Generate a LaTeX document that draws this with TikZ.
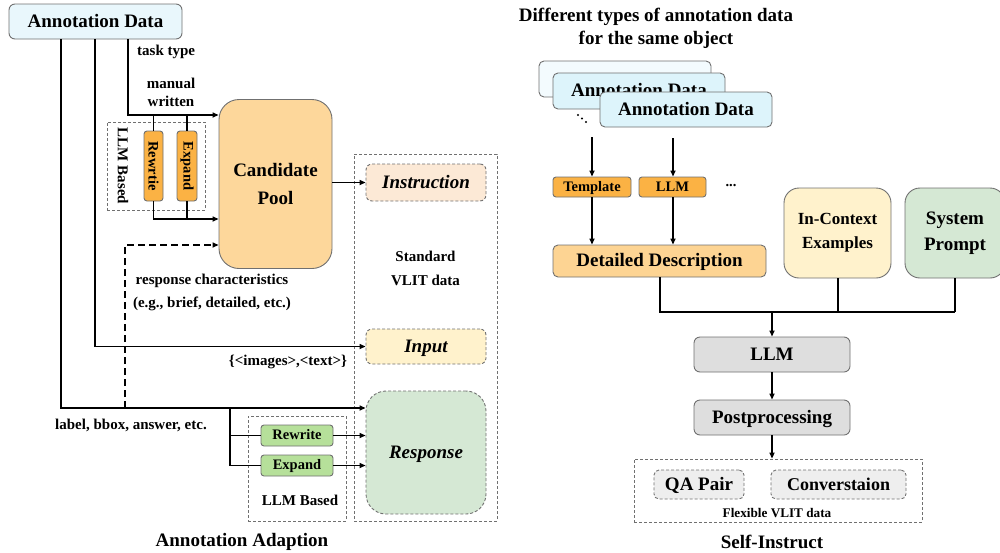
\documentclass[tikz,border=0pt]{standalone}
\usepackage{fontspec}
\setmainfont{Liberation Serif}
\usetikzlibrary{arrows.meta,calc}
\definecolor{bordergray}{HTML}{707070}
\definecolor{annfill}{HTML}{E9F7FC}
\definecolor{annfillb}{HTML}{F3FBFE}
\definecolor{annfillf}{HTML}{DDF4FB}
\definecolor{poolfill}{HTML}{FDD79B}
\definecolor{orangefill}{HTML}{FBB244}
\definecolor{detfill}{HTML}{FDD493}
\definecolor{instrfill}{HTML}{FCE9D6}
\definecolor{yellowfill}{HTML}{FFF2CC}
\definecolor{greenfill}{HTML}{D5E8D4}
\definecolor{greenbtn}{HTML}{B6E09A}
\definecolor{grayfill}{HTML}{DEDEDE}
\definecolor{lgrayfill}{HTML}{EEEEEE}
\newcommand{\fbig}{\fontsize{19}{22}\selectfont\bfseries}
\newcommand{\fmid}{\fontsize{15}{18}\selectfont\bfseries}
\newcommand{\fsml}{\fontsize{14.5}{17}\selectfont\bfseries}
\newcommand{\ftiny}{\fontsize{13.2}{15}\selectfont\bfseries}
\begin{document}
\begin{tikzpicture}[x=1pt,y=-1pt,
  box/.style={draw=bordergray, line width=0.9pt, rounded corners=5pt, inner sep=0pt, font=\fbig, align=center},
  bt/.style={text height=12pt, text depth=1pt},
  st/.style={text height=9.5pt, text depth=1pt},
  smallbox/.style={draw=bordergray, line width=0.9pt, rounded corners=3pt, inner sep=0pt, font=\fsml},
  dbox/.style={draw=bordergray, line width=0.8pt, dash pattern=on 3pt off 2pt, inner sep=0pt},
  ln/.style={line width=1.8pt},
  arr/.style={line width=1.8pt, -{Triangle[length=6pt,width=5pt]}},
  lbl/.style={font=\fmid, inner sep=0pt, align=center},
]
\useasboundingbox (0,0) rectangle (1000,552);

% ================= LEFT: Annotation Adaption =================
\node[dbox, minimum width=98pt, minimum height=88pt] (llmgrp1) at (156,166) {};
\node[dbox, minimum width=98pt, minimum height=105pt] (llmgrp2) at (297,468.5) {};
\node[dbox, minimum width=143pt, minimum height=367pt] (stdgrp) at (425.5,337.5) {};

\node[box, bt, fill=annfill, rounded corners=6pt, minimum width=173pt, minimum height=35pt] (ann) at (95.5,21.5) {Annotation Data};
\node[box, fill=poolfill, rounded corners=20pt, minimum width=113pt, minimum height=169pt] (cand) at (275.5,184) {Candidate\\[6pt]Pool};

\node[smallbox, fill=orangefill, minimum width=19pt, minimum height=70pt] (rw1) at (153.5,166) {};
\node[rotate=-90, font=\fsml, inner sep=0pt] at (rw1.center) {Rewrtie};
\node[smallbox, fill=orangefill, minimum width=20pt, minimum height=70pt] (ex1) at (187,166) {};
\node[rotate=-90, font=\fsml, inner sep=0pt] at (ex1.center) {Expand};
\node[rotate=-90, lbl] (llmb1) at (123,166) {LLM Based};

\node[box, bt, dash pattern=on 3pt off 2pt, fill=instrfill, rounded corners=6pt, minimum width=120pt, minimum height=37pt, font=\fbig\itshape] (instr) at (426,182.5) {Instruction};
\node[box, bt, dash pattern=on 3pt off 2pt, fill=yellowfill, rounded corners=6pt, minimum width=120pt, minimum height=35pt, font=\fbig\itshape] (inp) at (426,346.5) {Input};
\node[box, bt, dash pattern=on 3pt off 2pt, fill=greenfill, rounded corners=20pt, minimum width=120pt, minimum height=123pt, font=\fbig\itshape] (resp) at (426,452.5) {Response};

\node[smallbox, st, fill=greenbtn, minimum width=72pt, minimum height=21pt] (rw2) at (297,435.5) {Rewrite};
\node[smallbox, st, fill=greenbtn, minimum width=72pt, minimum height=21pt] (ex2) at (297,465.5) {Expand};

\node[lbl, anchor=west] (tt) at (137,52) {task type};
\node[lbl] (mw) at (171,92.5) {manual\\written};
\node[lbl] (rc1) at (212,281) {response characteristics};
\node[lbl] (rc2) at (212,304) {(e.g., brief, detailed, etc.)};
\node[lbl] (imgtxt) at (288,362) {\{<images>,<text>\}};
\node[lbl] (lbb) at (131,425) {label, bbox, answer, etc.};
\node[lbl] (std1) at (425.5,256) {Standard};
\node[lbl] (std2) at (425.5,280) {VLIT data};
\node[lbl] (llmb2) at (300,500) {LLM Based};
\node[font=\fbig, inner sep=0pt] (titleL) at (242,542) {Annotation Adaption};

% connectors left
\draw[arr] (ann.south -| 128,0) |- (cand.west |- 0,115);
\draw[ln] (rw1.north) -- (rw1.north |- 0,115);
\draw[ln] (ex1.north) -- (ex1.north |- 0,115);
\draw[arr] (rw1.south) |- (cand.west |- 0,219);
\draw[ln] (ex1.south) -- (ex1.south |- 0,219);
\draw[arr, dash pattern=on 7pt off 4pt] (125,408) -- (125,245) -- (cand.west |- 0,245);
\draw[arr] (ann.south -| 95,0) |- (inp.west);
\draw[arr] (ann.south -| 61,0) |- (resp.west |- 0,408);
\draw[ln] (230,408) |- (ex2.west);
\draw[ln] (230,435.5) -- (rw2.west);
\draw[arr] (rw2.east) -- (resp.west |- rw2.east);
\draw[arr] (ex2.east) -- (resp.west |- ex2.east);
\draw[arr] (cand.east |- instr.west) -- (instr.west);

% ================= RIGHT: Self-Instruct =================
\node[lbl, font=\fbig] (titleR1) at (656,17) {Different types of annotation data};
\node[lbl, font=\fbig] (titleR2) at (656,40) {for the same object};

\node[box, fill=annfillb, minimum width=172pt, minimum height=36pt] (st1) at (625,79) {};
\node[box, bt, fill=annfillf, minimum width=172pt, minimum height=36pt] (st2) at (639,91) {Annotation Data};
\node[box, bt, fill=annfillf, minimum width=172pt, minimum height=35pt] (st3) at (686,109.5) {Annotation Data};
\fill (578,115) circle (1.1pt) (582,118.5) circle (1.1pt) (586,122) circle (1.1pt);

\node[smallbox, st, fill=orangefill, minimum width=78pt, minimum height=20pt] (tmpl) at (592,187) {Template};
\node[smallbox, st, fill=orangefill, minimum width=67pt, minimum height=20pt] (llms) at (672.5,187) {LLM};
\node[font=\fsml, inner sep=0pt] (dots) at (731,186) {...};

\node[box, bt, fill=detfill, minimum width=213pt, minimum height=32pt] (det) at (659.5,261) {Detailed Description};
\node[box, fill=yellowfill, rounded corners=15pt, minimum width=107pt, minimum height=90pt, font=\fontsize{17}{20}\selectfont\bfseries] (ice) at (837.5,233) {In-Context\\[4pt]Examples};
\node[box, fill=greenfill, rounded corners=15pt, minimum width=100pt, minimum height=90pt] (sys) at (955,233) {System\\[4pt]Prompt};

\node[box, bt, fill=grayfill, rounded corners=6pt, minimum width=156pt, minimum height=35pt] (llm) at (772,354.5) {LLM};
\node[box, bt, fill=grayfill, rounded corners=6pt, minimum width=156pt, minimum height=35pt] (post) at (772,417.5) {Postprocessing};

\node[dbox, minimum width=288pt, minimum height=63pt] (flex) at (778,490.5) {};
\node[box, bt, dash pattern=on 3pt off 2pt, fill=lgrayfill, minimum width=90pt, minimum height=29pt] (qa) at (699,484.5) {QA Pair};
\node[box, bt, dash pattern=on 3pt off 2pt, fill=lgrayfill, minimum width=135pt, minimum height=29pt, font=\fontsize{18}{21}\selectfont\bfseries] (conv) at (838.5,484.5) {Converstaion};
\node[font=\ftiny, inner sep=0pt] (flexlbl) at (777,513) {Flexible VLIT data};
\node[font=\fbig, inner sep=0pt] (titleR) at (772,542) {Self-Instruct};

% connectors right
\draw[arr] (592,137) -- (tmpl.north);
\draw[arr] (673,138) -- (llms.north -| 673,0);
\draw[arr] (tmpl.south) -- (det.north -| tmpl.south);
\draw[arr] (llms.south -| 673,0) -- (det.north -| 673,0);
\draw[ln] (det.south -| 660,0) -- (660,312) -- (955,312);
\draw[ln] (ice.south -| 838,0) -- (838,312);
\draw[ln] (sys.south) -- (955,312);
\draw[arr] (772,312) -- (llm.north);
\draw[arr] (llm.south) -- (post.north);
\draw[arr] (post.south) -- (flex.north -| post.south);
\end{tikzpicture}
\end{document}
